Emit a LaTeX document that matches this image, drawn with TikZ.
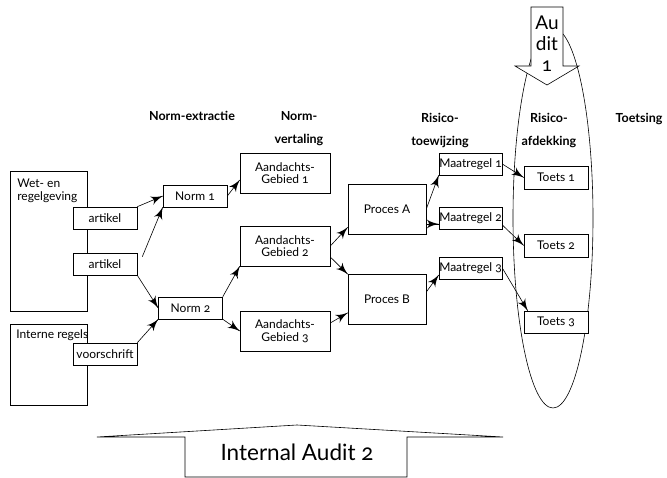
\documentclass[tikz,border=0pt]{standalone}
\usepackage{fontspec}
\setmainfont{Lato}[Numbers=OldStyle]
\usepackage{tikz}
\usetikzlibrary{arrows}
\usetikzlibrary{decorations.markings}
\tikzset{->/.style = {decoration={markings,
                                  mark=at position 1 with {\arrow[scale=2.6]{latex'}}},
                      postaction={decorate}}}
\tikzset{blok/.style = {draw, fill=white, inner sep=0, minimum width=64,
                        minimum height=22, font=\fontsize{12}{12.5}\selectfont}}
\tikzset{groot/.style = {blok, minimum width=90, minimum height=40, align=center}}
\tikzset{kop/.style = {font=\bfseries\fontsize{12.5}{23}\selectfont, align=center,
                       anchor=north, inner sep=0}}
\tikzset{tekst/.style = {anchor=north west, align=left, inner sep=0,
                         font=\fontsize{12}{12.5}\selectfont}}

\begin{document}
\begin{tikzpicture}[x=1pt, y=-1pt, line width=0.6pt]
      \useasboundingbox (0,0) rectangle (667,478);
      % koppen
      \node [kop] (extractie) at (192,111) {Norm-extractie};
      \node [kop] (vertaling) at (299,111) {Norm-\\vertaling};
      \node [kop] (toewijzing) at (440,113) {Risico-\\toewijzing};
      \node [kop] (afdekking) at (549,113) {Risico-\\afdekking};
      \node [kop] (toetsing) at (639,113) {Toetsing};
      % audit 1
      \draw (553,218) ellipse [x radius=40, y radius=190];
      \draw [fill=white] (531,7) -- (563,7) -- (563,66) -- (579,66) -- (547,85)
            -- (515,66) -- (531,66) -- cycle;
      \node [font=\fontsize{19}{21}\selectfont, align=center, anchor=north,
             inner sep=0] (audit) at (547,16) {Au\\dit\\1};
      % bronnen
      \node [draw, minimum width=77, minimum height=140] (wet) at (48.5,241) {};
      \node [tekst] (wettekst) at (17,179) {Wet- en\\regelgeving};
      \node [draw, minimum width=77, minimum height=81] (intern) at (48.5,364.5) {};
      \node [tekst] (interntekst) at (16,329) {Interne regels};
      \node [blok] (art1) at (105,218) {artikel};
      \node [blok] (art2) at (105,264) {artikel};
      \node [blok] (voor) at (105,354) {voorschrift};
      % normen en gebieden
      \node [blok] (norm1) at (195,196) {Norm 1};
      \node [blok] (norm2) at (190.5,308) {Norm 2};
      \node [groot] (ag1) at (285,173) {Aandachts-\\Gebied 1};
      \node [groot] (ag2) at (285,246) {Aandachts-\\Gebied 2};
      \node [groot] (ag3) at (285,331) {Aandachts-\\Gebied 3};
      \node [blok, minimum width=78, minimum height=50] (procA) at (387,209) {Proces A};
      \node [blok, minimum width=78, minimum height=50] (procB) at (387,299.5) {Proces B};
      \node [blok, minimum width=63] (mr1) at (470.5,164) {Maatregel 1};
      \node [blok, minimum width=63] (mr2) at (470.5,218) {Maatregel 2};
      \node [blok, minimum width=63] (mr3) at (470.5,268) {Maatregel 3};
      \node [blok, minimum height=23] (t1) at (556,177.5) {Toets 1};
      \node [blok, minimum height=23] (t2) at (556,245.5) {Toets 2};
      \node [blok] (t3) at (556,322) {Toets 3};
      % pijlen
      \draw [->] (art1.north east) -- (norm1.west);
      \draw [->] ([shift={(5,4)}]art2.north east) -- (norm1.south west);
      \draw [->] (art2.south east) -- (norm2.west);
      \draw [->] (voor.north east) -- (norm2.south west);
      \draw [->] (norm1.east) -- ([yshift=-7pt]ag1.west);
      \draw [->] (norm2.north east) -- (ag2.south west);
      \draw [->] (norm2.south east) -- (ag3.west);
      \draw [->] (ag2.east) -- ([yshift=7pt]procA.south west);
      \draw [->] ([yshift=-11pt]ag2.east) -- (procB.north west);
      \draw [->] ([yshift=8pt]ag3.east) -- ([yshift=12pt]procB.south west);
      \draw [->] (procA.east) -- (mr1.south west);
      \draw [->] ([yshift=-15pt]procA.east) -- ([yshift=-6pt]mr2.west);
      \draw [->] ([yshift=7.5pt]procB.east) -- ([yshift=-7pt]mr3.west);
      \draw [->] (mr1.east) -- (t1.west);
      \draw [->] ([yshift=-7pt]mr2.east) -- (t2.west);
      \draw [->] (mr3.east) -- ([xshift=4pt]t3.north west);
      % audit 2
      \draw (97,437) -- (297,425) -- (503,437) -- (407,437) -- (407,477)
            -- (185,477) -- (185,437) -- cycle;
      \node [font=\fontsize{22.5}{24}\selectfont, anchor=base, inner sep=0]
            (audit2) at (297,460) {Internal Audit 2};
    \end{tikzpicture}
\end{document}
